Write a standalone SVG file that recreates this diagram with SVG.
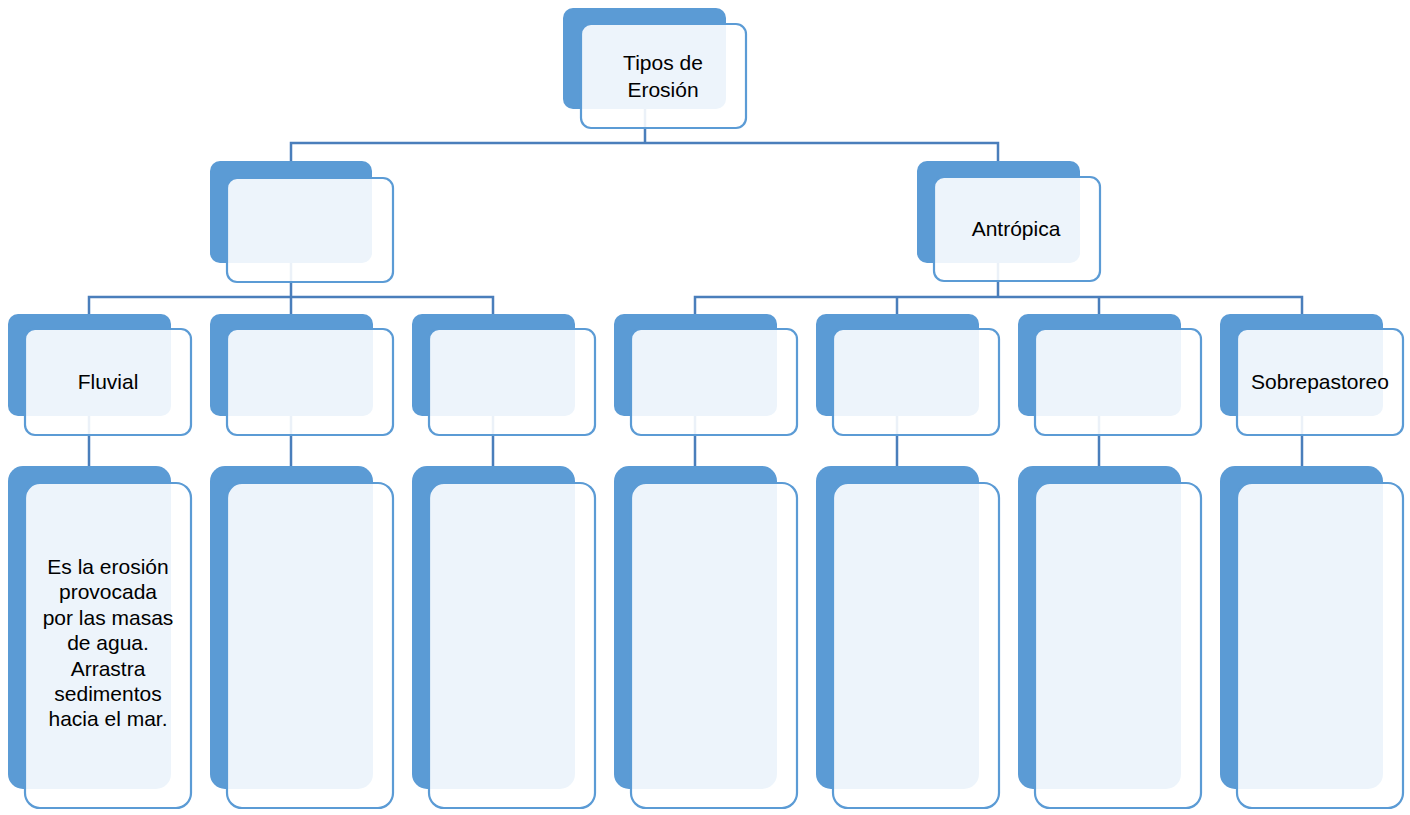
<svg xmlns="http://www.w3.org/2000/svg" width="1410" height="815" viewBox="0 0 1410 815">
<style>
.back{fill:#5B9BD5;}
.front{fill:#FFFFFF;fill-opacity:0.89;stroke:#5B9BD5;stroke-width:2.2;}
.conn{fill:none;stroke:#4A7EBB;stroke-width:2.5;}
text{font-family:"Liberation Sans","Open Sans",sans-serif;font-size:21px;fill:#000;text-anchor:middle;}
</style>
<rect width="1410" height="815" fill="#FFFFFF"/>
<g id="connectors">
<path class="conn" d="M645,108 V143 M291,161 V143 H998 V161"/>
<path class="conn" d="M291,263 V297 M89,314 V297 H493 V314 M291,297 V314"/>
<path class="conn" d="M998,263 V297 M695,314 V297 H1302 V314 M897,297 V314 M1099,297 V314"/>
<path class="conn" d="M89,416 V467 M291,416 V467 M493,416 V467 M695,416 V467 M897,416 V467 M1099,416 V467 M1302,416 V467"/>
</g>
<g id="n-tipos">
<rect class="back" x="563" y="8" width="163" height="101" rx="10"/>
<rect class="front" x="581" y="24" width="165" height="104" rx="10"/>
<text x="663" y="70">Tipos de</text>
<text x="663" y="97">Erosión</text>
</g>
<g id="n-l2a">
<rect class="back" x="210" y="161" width="162" height="102" rx="10"/>
<rect class="front" x="227" y="178" width="166" height="104" rx="10"/>
</g>
<g id="n-antropica">
<rect class="back" x="917" y="161" width="163" height="102" rx="10"/>
<rect class="front" x="934" y="177" width="166" height="104" rx="10"/>
<text x="1016" y="236">Antrópica</text>
</g>
<g id="n-fluvial">
<rect class="back" x="8" y="314" width="163" height="102" rx="10"/>
<rect class="front" x="25" y="329" width="166" height="106" rx="10"/>
<text x="108" y="389">Fluvial</text>
</g>
<g id="n-l3b">
<rect class="back" x="210" y="314" width="163" height="102" rx="10"/>
<rect class="front" x="227" y="329" width="166" height="106" rx="10"/>
</g>
<g id="n-l3c">
<rect class="back" x="412" y="314" width="163" height="102" rx="10"/>
<rect class="front" x="429" y="329" width="166" height="106" rx="10"/>
</g>
<g id="n-l3d">
<rect class="back" x="614" y="314" width="163" height="102" rx="10"/>
<rect class="front" x="631" y="329" width="166" height="106" rx="10"/>
</g>
<g id="n-l3e">
<rect class="back" x="816" y="314" width="163" height="102" rx="10"/>
<rect class="front" x="833" y="329" width="166" height="106" rx="10"/>
</g>
<g id="n-l3f">
<rect class="back" x="1018" y="314" width="163" height="102" rx="10"/>
<rect class="front" x="1035" y="329" width="166" height="106" rx="10"/>
</g>
<g id="n-sobrepastoreo">
<rect class="back" x="1220" y="314" width="163" height="102" rx="10"/>
<rect class="front" x="1237" y="329" width="166" height="106" rx="10"/>
<text x="1320" y="389">Sobrepastoreo</text>
</g>
<g id="n-l4a">
<rect class="back" x="8" y="466" width="163" height="323" rx="15"/>
<rect class="front" x="25" y="483" width="166" height="325" rx="15"/>
<text x="108" y="574">Es la erosión</text>
<text x="108" y="599">provocada</text>
<text x="108" y="625">por las masas</text>
<text x="108" y="650">de agua.</text>
<text x="108" y="676">Arrastra</text>
<text x="108" y="701">sedimentos</text>
<text x="108" y="726">hacia el mar.</text>
</g>
<g id="n-l4b">
<rect class="back" x="210" y="466" width="163" height="323" rx="15"/>
<rect class="front" x="227" y="483" width="166" height="325" rx="15"/>
</g>
<g id="n-l4c">
<rect class="back" x="412" y="466" width="163" height="323" rx="15"/>
<rect class="front" x="429" y="483" width="166" height="325" rx="15"/>
</g>
<g id="n-l4d">
<rect class="back" x="614" y="466" width="163" height="323" rx="15"/>
<rect class="front" x="631" y="483" width="166" height="325" rx="15"/>
</g>
<g id="n-l4e">
<rect class="back" x="816" y="466" width="163" height="323" rx="15"/>
<rect class="front" x="833" y="483" width="166" height="325" rx="15"/>
</g>
<g id="n-l4f">
<rect class="back" x="1018" y="466" width="163" height="323" rx="15"/>
<rect class="front" x="1035" y="483" width="166" height="325" rx="15"/>
</g>
<g id="n-l4g">
<rect class="back" x="1220" y="466" width="163" height="323" rx="15"/>
<rect class="front" x="1237" y="483" width="166" height="325" rx="15"/>
</g>
</svg>
